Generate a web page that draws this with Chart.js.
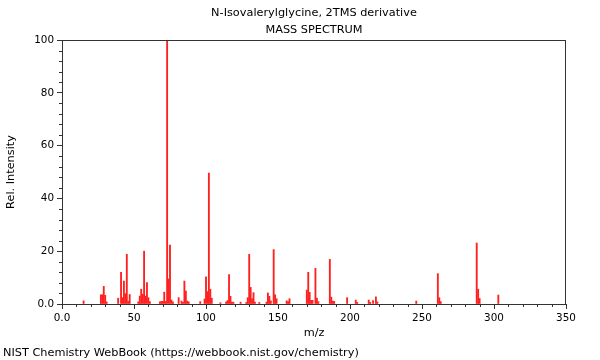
<!DOCTYPE html>
<html><head><meta charset="utf-8">
<script src="https://cdn.jsdelivr.net/npm/chart.js@4"></script>
<style>html,body{margin:0;padding:0;background:#fff}canvas{display:block}</style>
</head><body>
<canvas id="c" width="600" height="360"></canvas>
<script>
const titleLines = ["N-Isovalerylglycine, 2TMS derivative", "MASS SPECTRUM"];
const xAxisLabel = "m/z";
const yAxisLabel = "Rel. Intensity";
const footerText = "NIST Chemistry WebBook (https://webbook.nist.gov/chemistry)";

const mz = [15,27,28,29,30,31,39,41,42,43,44,45,46,47,53,54,55,56,57,58,59,60,61,
  68,69,70,71,72,73,74,75,76,77,81,83,84,85,86,87,88,96,99,100,101,102,103,104,
  110,114,115,116,117,118,119,124,128,129,130,131,132,133,134,137,142,143,144,145,
  147,148,149,156,157,158,170,171,172,173,174,176,177,178,186,187,188,189,198,
  204,205,213,214,216,218,219,246,261,262,263,288,289,290,303];
const intensity = [1.2,3.5,3.5,6.7,3.3,0.8,2.2,12,2.4,8.7,3.9,18.8,1,3.6,0.8,3,5.6,3.7,20,3,8.1,2.4,0.9,
  0.8,1,1,4.5,1,100,9.5,22.3,1.5,0.8,2.4,1.1,0.6,8.7,4.9,1.1,0.8,0.9,1.9,10.3,4.7,49.6,5.6,2.2,
  0.5,0.8,1.3,11.1,2.9,0.7,0.7,0.7,0.6,2.4,18.8,6.3,2,4.3,0.7,0.6,0.7,4.2,2.9,1.2,
  20.6,3.5,2,1.2,0.9,2,5.3,12,4.4,1.4,1.4,13.5,2.2,0.9,16.9,2.6,1.1,1,2.4,
  1.5,0.6,1.5,0.6,1.3,2.7,0.8,1.1,11.5,2.4,0.9,23.1,5.6,2.1,3.4];
const xTickValues = [0,50,100,150,200,250,300,350];
const yTickValues = [0,20,40,60,80,100];
const xMinorStep = 10;
const yMinorStep = 4;

const FONT = '"DejaVu Sans", sans-serif';

const decor = {
  id: 'decor',
  afterDraw(chart) {
    const {ctx, chartArea: a, scales: {x, y}} = chart;
    ctx.save();
    ctx.strokeStyle = '#333';
    ctx.lineWidth = 1;
    ctx.strokeRect(a.left + 0.5, a.top + 0.5, a.right - a.left - 1, a.bottom - a.top);
    ctx.beginPath();
    for (let v = 0; v <= x.max; v += xMinorStep) {
      if (xTickValues.includes(v)) continue;
      const px = Math.round(x.getPixelForValue(v)) + 0.5;
      ctx.moveTo(px, a.bottom); ctx.lineTo(px, a.bottom + 3);
    }
    for (let v = 0; v <= y.max; v += yMinorStep) {
      if (yTickValues.includes(v)) continue;
      const py = Math.round(y.getPixelForValue(v)) + 0.5;
      ctx.moveTo(a.left, py); ctx.lineTo(a.left - 3, py);
    }
    ctx.stroke();
    ctx.fillStyle = '#000';
    ctx.font = '11.3px ' + FONT;
    ctx.textAlign = 'center';
    ctx.textBaseline = 'middle';
    const cx = (a.left + a.right) / 2;
    ctx.fillText(titleLines[0], cx, 13);
    ctx.fillText(titleLines[1], cx, 30);
    ctx.fillText(xAxisLabel, cx, 333);
    ctx.textAlign = 'left';
    ctx.fillText(footerText, 3, 353);
    ctx.translate(11, (a.top + a.bottom) / 2);
    ctx.rotate(-Math.PI / 2);
    ctx.textAlign = 'center';
    ctx.fillText(yAxisLabel, 0, 0);
    ctx.restore();
  }
};

const fmt = v => v === 0 ? '0.0' : String(v);

new Chart(document.getElementById('c'), {
  type: 'bar',
  data: {
    datasets: [{
      data: mz.map((m, i) => ({x: m, y: intensity[i]})),
      backgroundColor: '#ff2020',
      borderWidth: 0,
      barThickness: 1.2
    }]
  },
  options: {
    responsive: false,
    animation: false,
    devicePixelRatio: 1,
    layout: {padding: {top: 40, right: 34, left: 0, bottom: 0}},
    plugins: {legend: {display: false}, tooltip: {enabled: false}, title: {display: false}},
    scales: {
      x: {
        type: 'linear', min: 0, max: 350, offset: false,
        afterBuildTicks: s => { s.ticks = xTickValues.map(v => ({value: v})); },
        afterFit: s => { s.height = 56; },
        ticks: {callback: fmt, font: {family: FONT, size: 10.4}, color: '#000', padding: 3, maxRotation: 0, autoSkip: false},
        grid: {drawOnChartArea: false, offset: false, tickLength: 5, color: '#333'},
        border: {color: '#333'}
      },
      y: {
        type: 'linear', min: 0, max: 100,
        afterBuildTicks: s => { s.ticks = yTickValues.map(v => ({value: v})); },
        afterFit: s => { s.width = 62; },
        ticks: {callback: fmt, font: {family: FONT, size: 10.4}, color: '#000', padding: 3, autoSkip: false},
        grid: {drawOnChartArea: false, tickLength: 5, color: '#333'},
        border: {color: '#333'}
      }
    }
  },
  plugins: [decor]
});
</script>
</body></html>
